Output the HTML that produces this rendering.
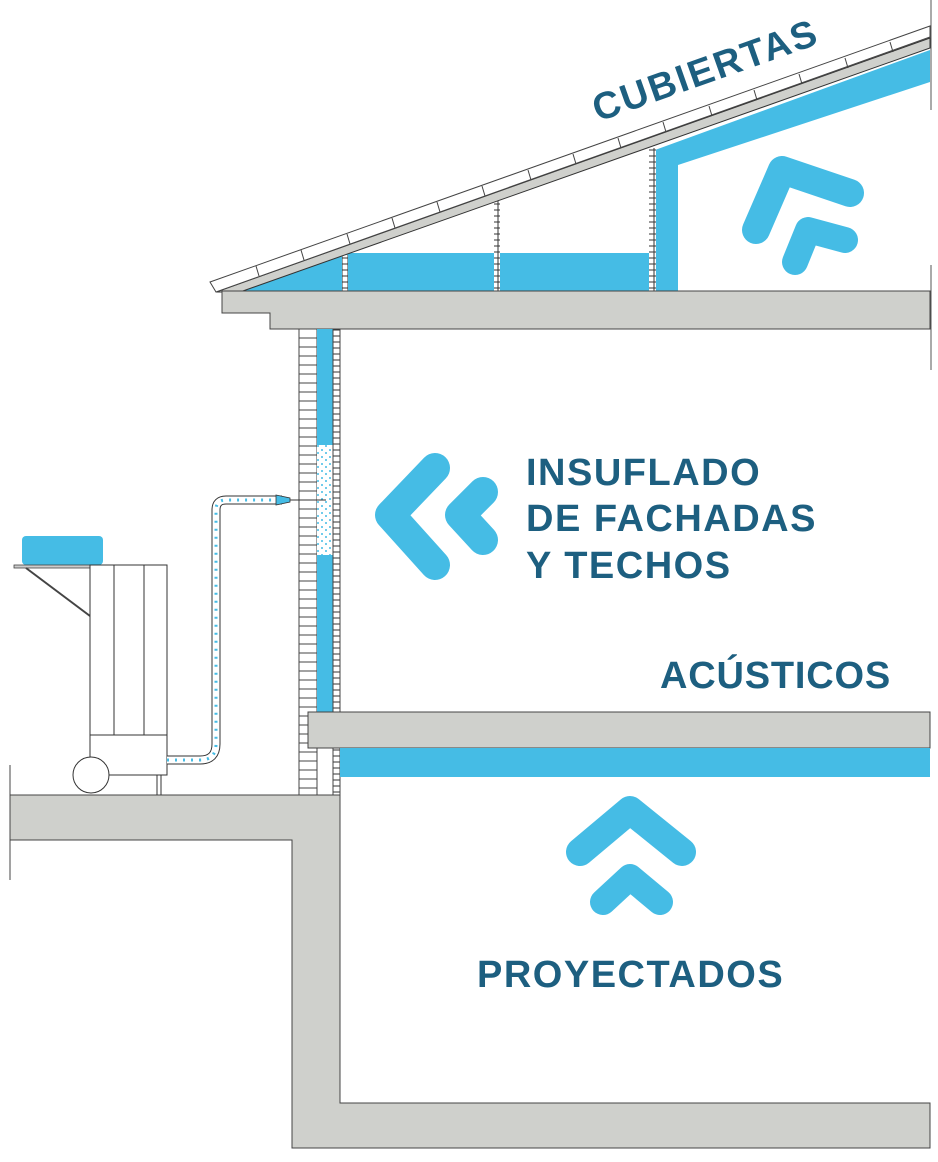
<!DOCTYPE html>
<html><head><meta charset="utf-8"><style>
html,body{margin:0;padding:0;background:#fff;}
svg{display:block;}
text{font-family:"Liberation Sans",sans-serif;font-weight:bold;fill:#1d5f80;}
</style></head><body>
<svg width="938" height="1162" viewBox="0 0 938 1162" xmlns="http://www.w3.org/2000/svg">
<defs>
<pattern id="brick" x="299" y="329" width="18" height="9" patternUnits="userSpaceOnUse"><rect width="18" height="9" fill="#fff" stroke="#444" stroke-width="1"/></pattern>
<pattern id="leaf" x="333" width="7" height="6" patternUnits="userSpaceOnUse"><rect width="7" height="6" fill="#fff" stroke="#333" stroke-width="1"/></pattern>
<pattern id="stud" width="6" height="6" patternUnits="userSpaceOnUse"><rect width="6" height="6" fill="#fff" stroke="#333" stroke-width="1"/></pattern>
<pattern id="dots" width="8" height="7" patternUnits="userSpaceOnUse"><circle cx="2" cy="2" r="1" fill="#45bce5"/><circle cx="6" cy="5" r="1" fill="#45bce5"/></pattern>
</defs>
<!-- roof insulation -->
<polygon points="240,291 345,253 345,291" fill="#45bce5"/>
<rect x="345" y="253" width="305" height="38" fill="#45bce5"/>
<polygon points="655,150 930,50 930,82 678,165 678,291 655,291" fill="#45bce5"/>
<!-- studs -->
<rect x="342" y="255" width="6" height="36" fill="url(#stud)"/>
<rect x="494" y="200" width="6" height="91" fill="url(#stud)"/>
<rect x="649" y="148" width="7" height="143" fill="url(#stud)"/>
<!-- rafter -->
<polygon points="216,292 930,38 930,48 240,292" fill="#cfd0cc" stroke="#333" stroke-width="1"/>
<!-- tiles -->
<polygon points="210,282 930,26 930,37 216,292" fill="#fff" stroke="#444" stroke-width="1"/>
<g stroke="#444" stroke-width="1">
<line x1="256" y1="266" x2="259" y2="276"/><line x1="301" y1="250" x2="304" y2="260"/><line x1="347" y1="234" x2="350" y2="244"/><line x1="392" y1="218" x2="395" y2="228"/><line x1="437" y1="202" x2="440" y2="212"/><line x1="482" y1="186" x2="485" y2="196"/><line x1="528" y1="170" x2="531" y2="180"/><line x1="573" y1="154" x2="576" y2="164"/><line x1="618" y1="138" x2="621" y2="148"/><line x1="663" y1="122" x2="666" y2="132"/><line x1="709" y1="106" x2="712" y2="116"/><line x1="754" y1="90" x2="757" y2="100"/><line x1="799" y1="74" x2="802" y2="84"/><line x1="845" y1="58" x2="848" y2="68"/><line x1="890" y1="42" x2="893" y2="52"/>
</g>
<line x1="931" y1="0" x2="931" y2="110" stroke="#555"/>
<line x1="931" y1="265" x2="931" y2="370" stroke="#555"/>
<!-- top slab -->
<path d="M222,291 H930 V329 H270 V313 H222 Z" fill="#cfd0cc" stroke="#444" stroke-width="1"/>
<!-- wall -->
<rect x="299" y="329" width="18" height="466" fill="url(#brick)" stroke="#444"/>
<rect x="317" y="329" width="16" height="383" fill="#45bce5"/>
<rect x="317" y="445" width="16" height="110" fill="#fff"/>
<rect x="317" y="445" width="16" height="110" fill="url(#dots)"/>
<rect x="333" y="329" width="7" height="466" fill="url(#leaf)" stroke="#444"/>
<!-- nozzle -->
<line x1="290" y1="500" x2="326" y2="500" stroke="#333"/>
<!-- middle slab -->
<rect x="308" y="712" width="622" height="36" fill="#cfd0cc" stroke="#444"/>
<rect x="340" y="748" width="590" height="29" fill="#45bce5"/>
<!-- ground -->
<path d="M10,795 H340 V1103 H930 V1148 H292 V840 H10 Z" fill="#cfd0cc" stroke="#444"/>
<line x1="10" y1="765" x2="10" y2="880" stroke="#444"/>
<!-- machine -->
<rect x="22" y="536" width="81" height="29" rx="4" fill="#45bce5"/>
<rect x="14" y="565" width="80" height="3" fill="#ccc" stroke="#444" stroke-width="0.8"/>
<line x1="26" y1="568" x2="90" y2="616" stroke="#444" stroke-width="2"/>
<rect x="90" y="565" width="77" height="170" fill="#fff" stroke="#333"/>
<line x1="114" y1="565" x2="114" y2="735" stroke="#333"/>
<line x1="144" y1="565" x2="144" y2="735" stroke="#333"/>
<rect x="90" y="735" width="77" height="40" fill="#fff" stroke="#333"/>
<circle cx="91" cy="775" r="18" fill="#fff" stroke="#333"/>
<line x1="157" y1="775" x2="157" y2="795" stroke="#333"/><line x1="161" y1="775" x2="161" y2="795" stroke="#333"/>
<path d="M167,760 H200 Q216,760 216,744 V510 Q216,500 226,500 H282" fill="none" stroke="#333" stroke-width="9"/>
<path d="M167,760 H200 Q216,760 216,744 V510 Q216,500 226,500 H282" fill="none" stroke="#fff" stroke-width="7"/>
<path d="M167,760 H200 Q216,760 216,744 V510 Q216,500 226,500 H282" fill="none" stroke="#45bce5" stroke-width="3" stroke-dasharray="2 6"/>
<polygon points="276,495 290,498 290,502 276,505" fill="#45bce5" stroke="#333" stroke-width="0.8"/>
<!-- chevrons -->
<g fill="none" stroke="#45bce5" stroke-linecap="round" stroke-linejoin="round">
<polyline points="435,468 390,515 435,565" stroke-width="30"/>
<polyline points="483,492 460,515 483,540" stroke-width="30"/>
<polyline points="580,852 630,810 682,852" stroke-width="28"/>
<polyline points="603,902 630,877 660,902" stroke-width="26"/>
<polyline points="756,230 782,170 850,193" stroke-width="28"/>
<polyline points="795,262 808,230 845,240" stroke-width="26"/>
</g>
<!-- text -->
<text x="598" y="122" font-size="38" letter-spacing="2" transform="rotate(-19.5 598 122)">CUBIERTAS</text>
<text x="526" y="485" font-size="38" letter-spacing="1.5">INSUFLADO</text>
<text x="526" y="531" font-size="38" letter-spacing="1.5">DE FACHADAS</text>
<text x="526" y="578" font-size="38" letter-spacing="1.5">Y TECHOS</text>
<text x="660" y="688" font-size="38" letter-spacing="0.8">ACÚSTICOS</text>
<text x="477" y="987" font-size="38" letter-spacing="1.5">PROYECTADOS</text>
</svg>
</body></html>
